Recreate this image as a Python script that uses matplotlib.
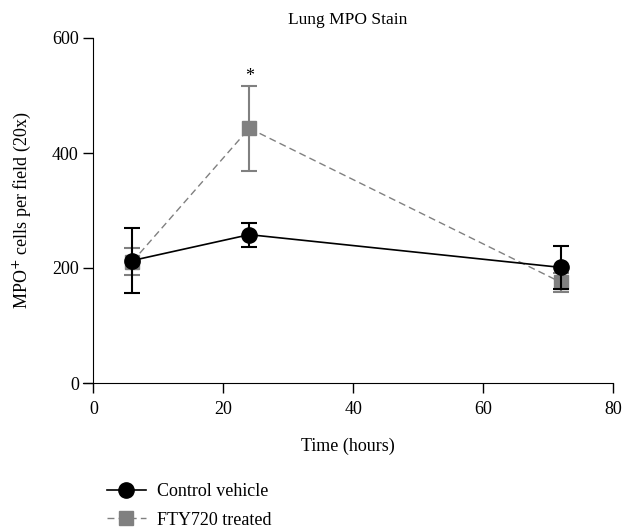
import numpy as np
import matplotlib.pyplot as plt
from matplotlib.lines import Line2D

plt.rcParams['font.family'] = ['Liberation Serif', 'DejaVu Serif']

hours = [6, 24, 72]
control_mean = [213, 258, 201]
control_err = [56, 21, 37]
fty_mean = [211, 443, 175]
fty_err = [24, 74, 16]

fig = plt.figure(figsize=(6.23, 5.29), dpi=100)
ax = fig.add_axes([83 / 623, 1 - 383 / 529, 530 / 623, 345 / 529])

ax.errorbar(hours, fty_mean, yerr=fty_err, color='#808080', ls=(0, (5, 3)), lw=1.0,
            marker='s', ms=10, capsize=6, capthick=1.5, elinewidth=1.5, zorder=2)
ax.errorbar(hours, control_mean, yerr=control_err, color='black', ls='-', lw=1.2,
            marker='o', ms=11, capsize=6, capthick=1.5, elinewidth=1.5, zorder=3)

ax.text(24, fty_mean[1] + fty_err[1] + 2, '*', ha='center', va='bottom', fontsize=13)

ax.set_xlim(-1.6, 80)
ax.set_ylim(0, 600)
ax.spines['left'].set_position(('data', 0))
ax.set_xticks([0, 20, 40, 60, 80])
ax.set_yticks([0, 200, 400, 600])
ax.spines['top'].set_visible(False)
ax.spines['right'].set_visible(False)
ax.tick_params(direction='out', length=7, labelsize=13, width=1)
ax.tick_params(axis='x', pad=6)
ax.set_xlabel('Time (hours)', fontsize=13, labelpad=14)
ax.set_ylabel('MPO$^{+}$ cells per field (20x)', fontsize=13, labelpad=14)
ax.set_title('Lung MPO Stain', fontsize=12.5, pad=10)

handles = [
    Line2D([], [], color='black', ls='-', lw=1.2, marker='o', ms=11),
    Line2D([], [], color='#808080', ls=(0, (5, 3)), lw=1.0, marker='s', ms=10),
]
labels = ['Control vehicle', 'FTY720 treated']
fig.legend(handles, labels, loc='upper left', bbox_to_anchor=(0.145, 0.118),
           frameon=False, fontsize=13, handlelength=2.2, labelspacing=0.65, handletextpad=0.6)

fig.savefig('out.png', dpi=100)
